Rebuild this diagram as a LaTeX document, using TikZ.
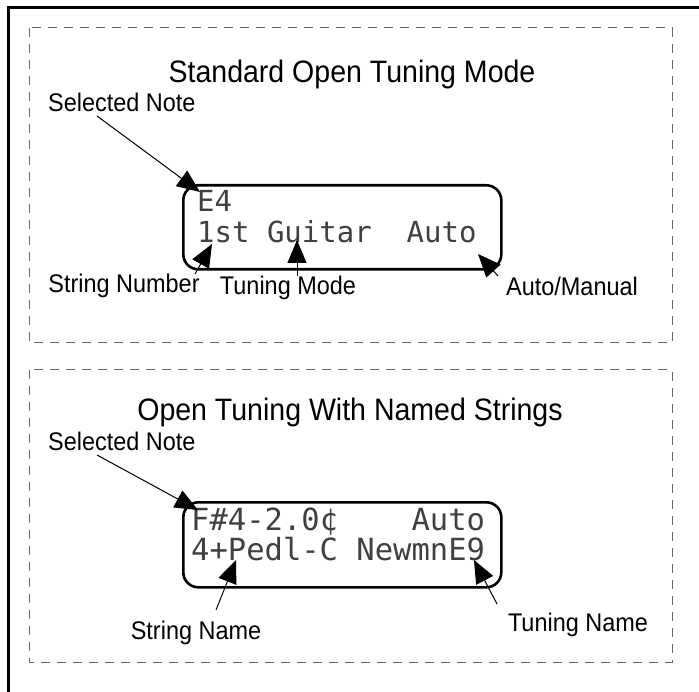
\documentclass[tikz,border=0pt]{standalone}
\usepackage{fontspec}
\setmainfont{Liberation Sans}[FakeStretch=0.92]
\newfontfamily\lcdfont{DejaVu Sans Mono}
\usetikzlibrary{arrows.meta}
\begin{document}
\begin{tikzpicture}[x=1pt,y=-1pt,
  frame/.style={line width=3pt},
  panel/.style={draw=black!60, line width=1pt, dash pattern=on 9pt off 7pt},
  title/.style={font=\fontsize{31}{34}\selectfont, inner sep=0pt},
  lbl/.style={font=\fontsize{25.5}{28}\selectfont, inner sep=0pt},
  lcd/.style={draw, line width=2.6pt, rounded corners=15pt, inner sep=0pt, anchor=north west},
  lcdtext/.style={font=\lcdfont\fontsize{29}{32}\selectfont, text=black!75, inner sep=0pt, anchor=base west},
  lcdtextb/.style={font=\lcdfont\fontsize{30.5}{32}\selectfont, text=black!75, inner sep=0pt, anchor=base west},
  ptr/.style={line width=1pt, -{Triangle[length=23pt,width=19pt]}},
]
\useasboundingbox (0,0) rectangle (699,692);
\fill[white] (0,0) rectangle (699,692);
\draw[frame] (8,692) -- (8,8) -- (699,8);

% panel 1
\draw[panel] (29,28) rectangle (672,343);
\node[title] (t1) at (352,74) {Standard Open Tuning Mode};
\node[lbl, anchor=west] (sel1) at (48,102) {Selected Note};
\node[lcd, minimum width=318pt, minimum height=84pt] (d1) at (182,184) {};
\node[lcdtext] (d1a) at (197,212) {E4};
\node[lcdtext] (d1b) at (197,243) {1st Guitar~~Auto};
\node[lbl] (sn) at (124,286) {String Number};
\node[lbl] (tm) at (288,288) {Tuning Mode};
\node[lbl] (am) at (572,286) {Auto/Manual};
\coordinate (sel1t) at (97,116);
\coordinate (sel1h) at (200,192);
\coordinate (snt) at (195,274);
\coordinate (snh) at (212,244);
\coordinate (tmt) at (297,276);
\coordinate (tmh) at (297,240);
\coordinate (amt) at (498,276);
\coordinate (amh) at (478,254);
\draw[ptr] (sel1t) -- (sel1h);
\draw[ptr] (snt) -- (snh);
\draw[ptr] (tmt) -- (tmh);
\draw[ptr] (amt) -- (amh);

% panel 2
\draw[panel] (29,370) rectangle (672,662);
\node[title] (t2) at (350,412) {Open Tuning With Named Strings};
\node[lbl, anchor=west] (sel2) at (48,441) {Selected Note};
\node[lcd, minimum width=318pt, minimum height=85pt] (d2) at (182,501) {};
\node[lcdtextb] (d2a) at (191,530) {F\#4-2.0¢~~~~Auto};
\node[lcdtextb] (d2b) at (191,560) {4+Pedl-C~NewmnE9};
\node[lbl] (sname) at (196,633) {String Name};
\node[lbl] (tname) at (578,625) {Tuning Name};
\coordinate (sel2t) at (97,455);
\coordinate (sel2h) at (198,510);
\coordinate (sntt) at (216,610);
\coordinate (snth) at (236,560);
\coordinate (tntt) at (497,604);
\coordinate (tnth) at (474,560);
\draw[ptr] (sel2t) -- (sel2h);
\draw[ptr] (sntt) -- (snth);
\draw[ptr] (tntt) -- (tnth);
\end{tikzpicture}
\end{document}
